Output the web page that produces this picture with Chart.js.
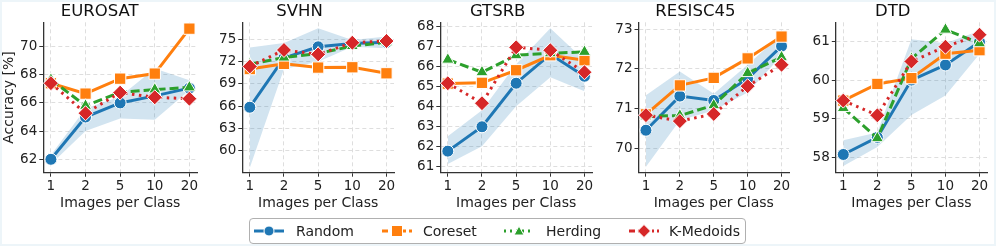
<!DOCTYPE html>
<html>
<head>
<meta charset="utf-8">
<script src="https://cdn.jsdelivr.net/npm/chart.js@4"></script>
<style>
  html, body { margin: 0; padding: 0; background: #fff; }
  body { width: 996px; height: 246px; position: relative; overflow: hidden; font-family: "DejaVu Sans", sans-serif; }
  .frame { position: absolute; left: 0; top: 0; width: 992px; height: 242px; border: 2px solid #edf5f9; pointer-events: none; }
  .panel { position: absolute; top: 0; height: 212px; }
  .legend { position: absolute; left: 249px; top: 218px; width: 495px; height: 24px; border: 1px solid #b0b0b0; border-radius: 4px; background: #fff; }
  .legend svg { position: absolute; top: 5px; }
  .legend span { position: absolute; top: 3px; font-size: 14px; color: #222; line-height: 18px; }
</style>
</head>
<body>
<div class="frame"></div>

<script>
const categories = ['1', '2', '5', '10', '20'];
const seriesNames = ['Random', 'Coreset', 'Herding', 'K-Medoids'];
const titles = ['EUROSAT', 'SVHN', 'GTSRB', 'RESISC45', 'DTD'];

// EUROSAT
const eurosatRandom = [62.0, 65.0, 66.0, 66.5, 67.05];
const eurosatCoreset = [67.4, 66.66, 67.72, 68.08, 71.27];
const eurosatHerding = [67.65, 65.8, 66.75, 66.95, 67.1];
const eurosatKMedoids = [67.4, 65.27, 66.73, 66.4, 66.3];
const eurosatRandomHi = [62.3, 65.6, 66.45, 68.45, 67.6];
const eurosatRandomLo = [61.65, 64.0, 64.9, 64.8, 66.9];
const eurosatTicks = [62, 64, 66, 68, 70];

// SVHN
const svhnRandom = [65.86, 72.5, 74.0, 74.45, 74.6];
const svhnCoreset = [71.0, 71.7, 71.2, 71.24, 70.43];
const svhnHerding = [71.65, 72.55, 73.1, 74.1, 74.6];
const svhnKMedoids = [71.35, 73.57, 72.98, 74.55, 74.78];
const svhnRandomHi = [73.9, 74.5, 76.5, 74.9, 75.4];
const svhnRandomLo = [57.7, 71.0, 72.0, 74.0, 73.8];
const svhnTicks = [60, 63, 66, 69, 72, 75];

// GTSRB
const gtsrbRandom = [61.75, 62.97, 65.15, 66.6, 65.5];
const gtsrbCoreset = [65.13, 65.17, 65.8, 66.55, 66.3];
const gtsrbHerding = [66.33, 65.7, 66.55, 66.65, 66.72];
const gtsrbKMedoids = [65.15, 64.15, 66.95, 66.8, 65.7];
const gtsrbRandomHi = [62.5, 63.8, 66.1, 67.9, 66.3];
const gtsrbRandomLo = [61.1, 62.0, 64.0, 65.45, 64.75];
const gtsrbTicks = [61, 62, 63, 64, 65, 66, 67, 68];

// RESISC45
const resiscRandom = [70.45, 71.31, 71.2, 71.75, 72.57];
const resiscCoreset = [70.85, 71.58, 71.77, 72.26, 72.81];
const resiscHerding = [70.8, 70.82, 71.08, 71.89, 72.29];
const resiscKMedoids = [70.83, 70.68, 70.86, 71.56, 72.1];
const resiscRandomHi = [71.33, 71.93, 71.37, 72.1, 72.87];
const resiscRandomLo = [69.53, 70.7, 70.95, 71.4, 72.33];
const resiscTicks = [70, 71, 72, 73];

// DTD
const dtdRandom = [58.08, 58.52, 60.0, 60.39, 60.98];
const dtdCoreset = [59.47, 59.9, 60.05, 60.68, 60.77];
const dtdHerding = [59.28, 58.5, 60.55, 61.3, 60.95];
const dtdKMedoids = [59.47, 59.09, 60.48, 60.86, 61.17];
const dtdRandomHi = [58.45, 58.65, 61.05, 60.95, 61.27];
const dtdRandomLo = [57.78, 58.27, 59.1, 59.6, 60.67];
const dtdTicks = [58, 59, 60, 61];

const yRanges = [[61.05, 71.72], [57.04, 77.3], [60.67, 68.2], [69.38, 73.17], [57.61, 61.49]];

const panels = [
  { left: 0,   width: 206, yw: 43.3, right: 199.5, ticks: eurosatTicks, series: [eurosatRandom, eurosatCoreset, eurosatHerding, eurosatKMedoids], hi: eurosatRandomHi, lo: eurosatRandomLo },
  { left: 202, width: 201, yw: 40.3, right: 397.0, ticks: svhnTicks, series: [svhnRandom, svhnCoreset, svhnHerding, svhnKMedoids], hi: svhnRandomHi, lo: svhnRandomLo },
  { left: 400, width: 201, yw: 40.3, right: 595.3, ticks: gtsrbTicks, series: [gtsrbRandom, gtsrbCoreset, gtsrbHerding, gtsrbKMedoids], hi: gtsrbRandomHi, lo: gtsrbRandomLo },
  { left: 598, width: 200, yw: 40.5, right: 792.7, ticks: resiscTicks, series: [resiscRandom, resiscCoreset, resiscHerding, resiscKMedoids], hi: resiscRandomHi, lo: resiscRandomLo },
  { left: 795, width: 201, yw: 40.8, right: 990.4, ticks: dtdTicks, series: [dtdRandom, dtdCoreset, dtdHerding, dtdKMedoids], hi: dtdRandomHi, lo: dtdRandomLo }
];

const colors = ['#1f77b4', '#ff7f0e', '#2ca02c', '#d62728'];
const markers = ['circle', 'rect', 'triangle', 'rectRot'];
const markerSizes = [6, 8, 7, 7.5];
const dashes = [[], [], [9, 4], [2.5, 4.5]];
const FONT = "'DejaVu Sans', sans-serif";

function pts(values) {
  return values.map((v, i) => ({ x: i, y: v }));
}

function makePanel(p, idx) {
  const div = document.createElement('div');
  div.className = 'panel';
  div.style.left = p.left + 'px';
  div.style.width = p.width + 'px';
  const canvas = document.createElement('canvas');
  div.appendChild(canvas);
  document.body.appendChild(div);

  const datasets = [
    { data: pts(p.hi), borderWidth: 0, pointRadius: 0, fill: false, order: 10 },
    { data: pts(p.lo), borderWidth: 0, pointRadius: 0, fill: '-1', backgroundColor: 'rgba(31,119,180,0.2)', order: 9 }
  ];
  p.series.forEach((vals, s) => {
    datasets.push({
      label: seriesNames[s],
      data: pts(vals),
      borderColor: colors[s],
      backgroundColor: colors[s],
      borderWidth: 3,
      borderDash: dashes[s],
      borderCapStyle: 'butt',
      pointStyle: markers[s],
      pointRadius: markerSizes[s],
      pointBorderColor: '#fff',
      pointBorderWidth: 1,
      pointBackgroundColor: colors[s],
      tension: 0,
      clip: false,
      order: 4 - s
    });
  });

  const yTickValues = p.ticks;
  new Chart(canvas, {
    type: 'line',
    data: { datasets },
    options: {
      animation: false,
      responsive: true,
      maintainAspectRatio: false,
      events: [],
      layout: { padding: { left: 0, top: 0, bottom: 0, right: p.left + p.width - p.right } },
      plugins: {
        legend: { display: false },
        tooltip: { enabled: false },
        title: {
          display: true,
          text: titles[idx],
          color: '#111',
          font: { family: FONT, size: 16.5, weight: 'normal' },
          padding: { top: 2, bottom: 0.5 }
        }
      },
      scales: {
        x: {
          type: 'linear',
          min: -0.22,
          max: 4.22,
          afterBuildTicks: (scale) => { scale.ticks = categories.map((c, i) => ({ value: i })); },
          afterFit: (scale) => { scale.height = 39.3; },
          ticks: {
            callback: (v) => categories[v],
            color: '#222',
            font: { family: FONT, size: 13.5 },
            padding: 2,
            maxRotation: 0,
            autoSkip: false
          },
          grid: { color: '#dedede', lineWidth: 1, tickLength: 4, tickColor: '#333', tickWidth: 1 },
          border: { color: '#333', width: 1.3, dash: [4, 3] },
          title: {
            display: true,
            text: 'Images per Class',
            color: '#222',
            font: { family: FONT, size: 14 },
            padding: { top: 0, bottom: 0 }
          }
        },
        y: {
          type: 'linear',
          min: yRanges[idx][0],
          max: yRanges[idx][1],
          afterBuildTicks: (scale) => { scale.ticks = yTickValues.map(v => ({ value: v })); },
          afterFit: (scale) => { scale.width = p.yw; },
          ticks: {
            callback: (v) => String(v),
            color: '#222',
            font: { family: FONT, size: 13.5 },
            padding: 2,
            autoSkip: false
          },
          grid: { color: '#dedede', lineWidth: 1, tickLength: 4, tickColor: '#333', tickWidth: 1 },
          border: { color: '#333', width: 1.3, dash: [4, 3] },
          title: {
            display: idx === 0,
            text: 'Accuracy [%]',
            color: '#222',
            font: { family: FONT, size: 14 },
            padding: { top: 1, bottom: 0 }
          }
        }
      }
    }
  });
}

panels.forEach(makePanel);

// legend
const legend = document.createElement('div');
legend.className = 'legend';
document.body.appendChild(legend);
const legendX = [4, 132, 254, 379];
const legendTextX = [46, 173, 296, 419];
const legendDash = ['', '6,3', '2,4', '6,3,2,3'];
function markerSvg(s, c) {
  if (s === 0) return `<circle cx="15" cy="7" r="5" fill="${c}" stroke="#fff" stroke-width="1"/>`;
  if (s === 1) return `<rect x="9.5" y="1.5" width="11" height="11" fill="${c}" stroke="#fff" stroke-width="1"/>`;
  if (s === 2) return `<polygon points="15,2 20,11 10,11" fill="${c}" stroke="#fff" stroke-width="1"/>`;
  return `<polygon points="15,0.5 21.5,7 15,13.5 8.5,7" fill="${c}" stroke="#fff" stroke-width="1"/>`;
}
seriesNames.forEach((name, s) => {
  const svg = `<svg width="30" height="14" style="left:${legendX[s]}px">` +
    `<line x1="0" y1="7" x2="30" y2="7" stroke="${colors[s]}" stroke-width="3" stroke-dasharray="${legendDash[s]}"/>` +
    markerSvg(s, colors[s]) + `</svg>`;
  legend.insertAdjacentHTML('beforeend', svg);
  const span = document.createElement('span');
  span.style.left = legendTextX[s] + 'px';
  span.textContent = name;
  legend.appendChild(span);
});
</script>
</body>
</html>
